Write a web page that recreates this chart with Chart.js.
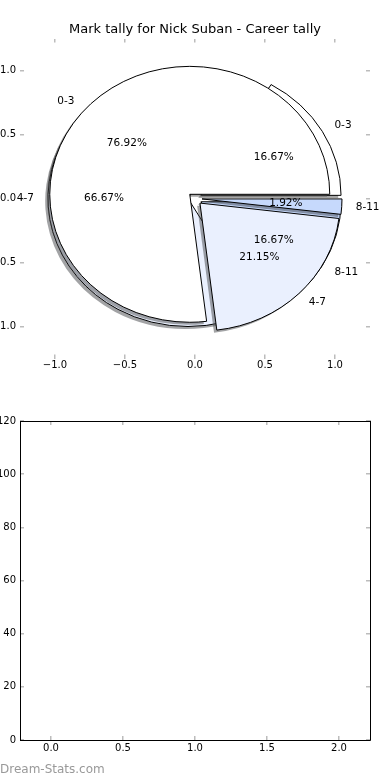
<!DOCTYPE html>
<html>
<head>
<meta charset="utf-8">
<title>Mark tally for Nick Suban - Career tally</title>
<script src="https://cdn.jsdelivr.net/npm/chart.js@4.4.0/dist/chart.umd.min.js"></script>
<style>
  body { margin: 0; background: #fff; }
  #wrap { position: relative; width: 390px; height: 780px; overflow: hidden; }
  canvas { position: absolute; left: 0; }
  #pieChart { top: 0; }
  #emptyChart { top: 390px; }
  #credit { position: absolute; left: 0; top: 762px; font: 12px "DejaVu Sans", sans-serif; color: #999; }
</style>
</head>
<body>
<div id="wrap">
  <canvas id="pieChart" width="390" height="390"></canvas>
  <canvas id="emptyChart" width="390" height="390"></canvas>
  <div id="credit">Dream-Stats.com</div>
</div>
<script>
// mark buckets and the two tallies drawn on top of each other
const markLabels = ['0-3', '4-7', '8-11'];
const backTally = [1, 4, 1];     // 16.67% / 66.67% / 16.67%
const frontTally = [40, 11, 1];  // 76.92% / 21.15% / 1.92%
const sliceColors = ['#ffffff', '#eaf0fe', '#c6d9fc'];

// tick values
const pieTicks = [-1, -0.5, 0, 0.5, 1];
const barXTicks = [0, 0.5, 1, 1.5, 2];
const barYTicks = [0, 20, 40, 60, 80, 100, 120];

Chart.defaults.font.family = '"DejaVu Sans", sans-serif';
Chart.defaults.font.size = 10;
Chart.defaults.color = '#000';

const EXPLODE = 0.05;
const tickGray = '#bcbcbc';

function wedges(values) {
  const total = values.reduce((a, b) => a + b, 0);
  let start = 0;
  return values.map((v, i) => {
    const sweep = v / total * 2 * Math.PI;
    const mid = start + sweep / 2;
    const w = {
      i: i, pct: v / total * 100, t1: start, t2: start + sweep, mid: mid,
      cx: EXPLODE * Math.cos(mid), cy: EXPLODE * Math.sin(mid)
    };
    start += sweep;
    return w;
  });
}

function shadowOf(hex) {
  const n = parseInt(hex.slice(1), 16);
  const r = Math.round(0.3 * (n >> 16)), g = Math.round(0.3 * ((n >> 8) & 255)), b = Math.round(0.3 * (n & 255));
  return 'rgba(' + r + ',' + g + ',' + b + ',0.5)';
}

// draws both pies on the x/y scales of the top chart
const piePlugin = {
  id: 'tallyPies',
  afterDatasetsDraw(chart) {
    const ctx = chart.ctx;
    const x = chart.scales.x, y = chart.scales.y;
    const rx = x.getPixelForValue(1) - x.getPixelForValue(0);
    const ry = y.getPixelForValue(0) - y.getPixelForValue(1);
    const pies = [wedges(backTally), wedges(frontTally)];

    function path(w, dx, dy) {
      const px = x.getPixelForValue(w.cx + dx), py = y.getPixelForValue(w.cy + dy);
      ctx.beginPath();
      ctx.moveTo(px, py);
      ctx.ellipse(px, py, rx, ry, 0, -w.t1, -w.t2, true);
      ctx.closePath();
    }

    ctx.save();
    // each wedge: its shadow first, then the wedge itself
    pies.forEach(p => p.forEach(w => {
      path(w, -0.02, -0.02);
      ctx.fillStyle = shadowOf(sliceColors[w.i]);
      ctx.fill();
      path(w, 0, 0);
      ctx.fillStyle = sliceColors[w.i];
      ctx.fill();
      ctx.lineWidth = 1;
      ctx.strokeStyle = '#000';
      ctx.stroke();
    }));

    ctx.fillStyle = '#000';
    ctx.font = '10.5px "DejaVu Sans", sans-serif';
    ctx.textBaseline = 'middle';
    pies.forEach(p => p.forEach(w => {
      const lx = w.cx + 1.1 * Math.cos(w.mid), ly = w.cy + 1.1 * Math.sin(w.mid);
      ctx.textAlign = lx > 0 ? 'left' : 'right';
      ctx.fillText(markLabels[w.i], x.getPixelForValue(lx), y.getPixelForValue(ly));
      const tx = w.cx + 0.6 * Math.cos(w.mid), ty = w.cy + 0.6 * Math.sin(w.mid);
      ctx.textAlign = 'center';
      ctx.fillText(w.pct.toFixed(2) + '%', x.getPixelForValue(tx), y.getPixelForValue(ty));
    }));
    ctx.restore();
  }
};

function fixTicks(list) {
  return scale => { scale.ticks = list.map(v => ({ value: v })); };
}
function pin(size) {
  return scale => {
    if (scale.isHorizontal()) scale.height = size; else scale.width = size;
  };
}
function fmt(v) {
  return (v < 0 ? '\u2212' : '') + Math.abs(v).toFixed(1);
}

function axis(pos, min, max, list, size, opts) {
  return {
    type: 'linear', position: pos, min: min, max: max,
    afterBuildTicks: fixTicks(list),
    afterFit: pin(size),
    grid: { drawOnChartArea: false, tickLength: -4, color: tickGray, lineWidth: 1.5 },
    border: opts.border,
    ticks: {
      display: opts.labels, autoSkip: false, maxRotation: 0,
      padding: opts.padding, color: '#000', callback: opts.fmt
    }
  };
}

const noFrame = { display: false };
const frame = { display: true, color: '#000', width: 1 };

new Chart(document.getElementById('pieChart'), {
  type: 'scatter',
  data: { datasets: [{ data: [] }] },
  options: {
    responsive: false,
    animation: false,
    events: [],
    layout: { padding: 0 },
    plugins: {
      legend: { display: false },
      tooltip: { enabled: false },
      title: {
        display: true,
        text: 'Mark tally for Nick Suban - Career tally',
        color: '#000',
        font: { size: 13, weight: 'normal' },
        padding: { top: 22, bottom: 0 }
      }
    },
    scales: {
      x: axis('bottom', -1.25, 1.25, pieTicks, 31.5, { border: noFrame, labels: true, padding: 5, fmt: fmt }),
      x2: axis('top', -1.25, 1.25, pieTicks, 1, { border: noFrame, labels: false, padding: 0, fmt: fmt }),
      y: axis('left', -1.25, 1.25, pieTicks, 20, { border: noFrame, labels: true, padding: 8, fmt: fmt }),
      y2: axis('right', -1.25, 1.25, pieTicks, 20, { border: noFrame, labels: false, padding: 0, fmt: fmt })
    }
  },
  plugins: [piePlugin]
});

new Chart(document.getElementById('emptyChart'), {
  type: 'scatter',
  data: { datasets: [{ data: [] }] },
  options: {
    responsive: false,
    animation: false,
    events: [],
    layout: { padding: { top: 30 } },
    plugins: { legend: { display: false }, tooltip: { enabled: false } },
    scales: {
      x: axis('bottom', -0.215, 2.215, barXTicks, 40, { border: frame, labels: true, padding: 6, fmt: fmt }),
      x2: axis('top', -0.215, 2.215, barXTicks, 1, { border: frame, labels: false, padding: 0, fmt: fmt }),
      y: axis('left', 0, 120, barYTicks, 20, { border: frame, labels: true, padding: 8, fmt: v => String(v) }),
      y2: axis('right', 0, 120, barYTicks, 20, { border: frame, labels: false, padding: 0, fmt: v => String(v) })
    }
  }
});
</script>
</body>
</html>
